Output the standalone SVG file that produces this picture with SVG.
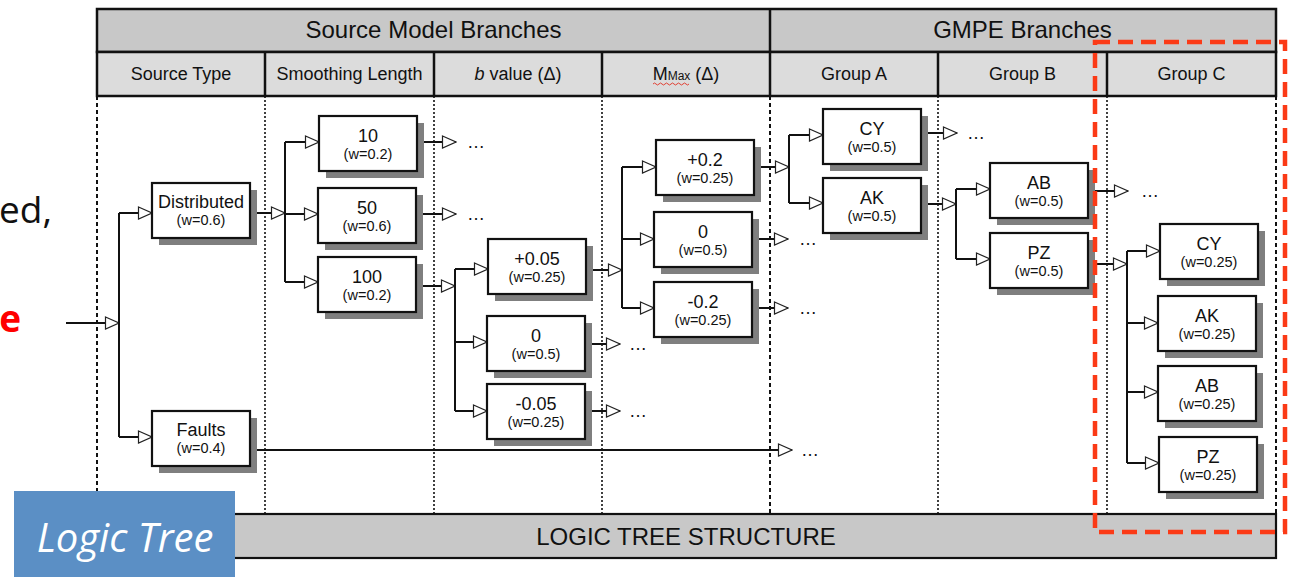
<svg xmlns="http://www.w3.org/2000/svg" width="1291" height="577" viewBox="0 0 1291 577">
  <style>
    .hdr1 { fill: #c8c8c8; stroke: #111; stroke-width: 2.5; }
    .hdr2 { fill: #dcdcdc; stroke: #111; stroke-width: 2.5; }
    .sep { stroke: #111; stroke-width: 2.5; }
    .t1 { font-family: "Liberation Sans", Arial, sans-serif; font-size: 24px; fill: #111; text-anchor: middle; }
    .t2 { font-family: "Liberation Sans", Arial, sans-serif; font-size: 18px; fill: #111; text-anchor: middle; }
    .col { stroke: #111; stroke-width: 1.6; stroke-dasharray: 2 2; fill: none; }
    .colb { stroke: #111; stroke-width: 2; stroke-dasharray: 4 3; fill: none; }
    .shadow { fill: #7f7f7f; }
    .box { fill: #fff; stroke: #111; stroke-width: 2.2; }
    .val { font-family: "Liberation Sans", Arial, sans-serif; font-size: 18px; fill: #111; text-anchor: middle; }
    .wt { font-family: "Liberation Sans", Arial, sans-serif; font-size: 14.5px; fill: #111; text-anchor: middle; }
    .ln { stroke: #111; stroke-width: 2; fill: none; }
    .arr { stroke: #111; stroke-width: 2; fill: none; marker-end: url(#head); }
    .dots { font-family: "Liberation Sans", Arial, sans-serif; font-size: 18px; fill: #111; letter-spacing: 1px; }
  </style>
  <defs>
    <marker id="head" markerUnits="userSpaceOnUse" markerWidth="16" markerHeight="14" viewBox="0 0 16 14" refX="15" refY="7" orient="auto">
      <path d="M1.5 1 L15 7 L1.5 13 Z" fill="#fff" stroke="#222" stroke-width="1.2"/>
    </marker>
  </defs>

  <rect width="1291" height="577" fill="#fff"/>

  <!-- table header -->
  <g id="header">
    <rect class="hdr1" x="97" y="9" width="1179" height="43"/>
    <rect class="hdr2" x="97" y="52" width="1179" height="44"/>
    <line class="sep" x1="770" y1="9" x2="770" y2="96"/>
    <line class="sep" x1="265" y1="52" x2="265" y2="96"/>
    <line class="sep" x1="434" y1="52" x2="434" y2="96"/>
    <line class="sep" x1="602" y1="52" x2="602" y2="96"/>
    <line class="sep" x1="938" y1="52" x2="938" y2="96"/>
    <line class="sep" x1="1107" y1="52" x2="1107" y2="96"/>
    <text class="t1" x="433.5" y="38">Source Model Branches</text>
    <text class="t1" x="1022.5" y="38">GMPE Branches</text>
    <text class="t2" x="181" y="80">Source Type</text>
    <text class="t2" x="349.5" y="80">Smoothing Length</text>
    <text class="t2" x="518" y="80"><tspan font-style="italic">b</tspan> value (Δ)</text>
    <text class="t2" x="686" y="80">M<tspan font-size="12px">Max</tspan> (Δ)</text>
    <path d="M653 84 q1.5 -2 3 0 t3 0 t3 0 t3 0 t3 0 t3 0 t3 0 t3 0 t3 0 t3 0 t3 0 t3 0" fill="none" stroke="#e03020" stroke-width="0.9"/>
    <text class="t2" x="854" y="80">Group A</text>
    <text class="t2" x="1022.5" y="80">Group B</text>
    <text class="t2" x="1191.5" y="80">Group C</text>
  </g>

  <!-- column guides -->
  <g id="columns">
    <line class="colb" x1="97" y1="96" x2="97" y2="514"/>
    <line class="col" x1="265" y1="96" x2="265" y2="514"/>
    <line class="col" x1="434" y1="96" x2="434" y2="514"/>
    <line class="col" x1="602" y1="96" x2="602" y2="514"/>
    <line class="colb" x1="770" y1="96" x2="770" y2="514"/>
    <line class="col" x1="938" y1="96" x2="938" y2="514"/>
    <line class="col" x1="1107" y1="96" x2="1107" y2="514"/>
    <line class="colb" x1="1276" y1="96" x2="1276" y2="514"/>
  </g>

  <!-- footer bar -->
  <g id="footer">
    <rect x="97" y="514" width="1179" height="44" fill="#c8c8c8" stroke="#111" stroke-width="2.2"/>
    <text class="t1" x="686" y="545" font-size="23px">LOGIC TREE STRUCTURE</text>
  </g>

  <!-- connectors -->
  <g id="connectors">
    <path class="arr" d="M66 323 H119"/>
    <path class="ln" d="M119 213 V437"/>
    <path class="arr" d="M119 213 H152"/>
    <path class="arr" d="M119 437 H152"/>

    <path class="arr" d="M249 213 H285"/>
    <path class="ln" d="M285 142 V282"/>
    <path class="arr" d="M285 142 H319"/>
    <path class="arr" d="M285 214 H318"/>
    <path class="arr" d="M285 282 H318"/>
    <path class="arr" d="M249 450 H792"/>

    <path class="arr" d="M417 142 H456"/>
    <path class="arr" d="M416 214 H456"/>
    <path class="arr" d="M416 286 H455"/>
    <path class="ln" d="M455 269 V411"/>
    <path class="arr" d="M455 269 H488"/>
    <path class="arr" d="M455 342 H487"/>
    <path class="arr" d="M455 411 H487"/>

    <path class="arr" d="M587 270 H622"/>
    <path class="arr" d="M585 344 H620"/>
    <path class="arr" d="M585 411 H620"/>
    <path class="ln" d="M622 167 V308"/>
    <path class="arr" d="M622 167 H656"/>
    <path class="arr" d="M622 239 H654"/>
    <path class="arr" d="M622 308 H654"/>

    <path class="arr" d="M754 167 H789"/>
    <path class="arr" d="M752 239 H788"/>
    <path class="arr" d="M752 308 H788"/>
    <path class="ln" d="M789 135 V203"/>
    <path class="arr" d="M789 135 H823"/>
    <path class="arr" d="M789 203 H823"/>

    <path class="arr" d="M921 133 H957"/>
    <path class="arr" d="M921 204 H956"/>
    <path class="ln" d="M956 189 V259"/>
    <path class="arr" d="M956 189 H990"/>
    <path class="arr" d="M956 259 H990"/>

    <path class="arr" d="M1088 191 H1128"/>
    <path class="arr" d="M1088 264 H1127"/>
    <path class="ln" d="M1127 251 V463"/>
    <path class="arr" d="M1127 251 H1160"/>
    <path class="arr" d="M1127 323 H1158"/>
    <path class="arr" d="M1127 392 H1158"/>
    <path class="arr" d="M1127 463 H1159"/>

    <text class="dots" x="467" y="148">…</text>
    <text class="dots" x="467" y="220">…</text>
    <text class="dots" x="629" y="350">…</text>
    <text class="dots" x="629" y="417">…</text>
    <text class="dots" x="799" y="245">…</text>
    <text class="dots" x="799" y="314">…</text>
    <text class="dots" x="801" y="456">…</text>
    <text class="dots" x="967" y="139">…</text>
    <text class="dots" x="1141" y="197">…</text>
  </g>

  <!-- source type -->
  <g id="n-distributed">
    <rect class="shadow" x="159" y="190" width="98" height="55"/>
    <rect class="box" x="152" y="183" width="98" height="55"/>
    <text class="val" x="201" y="208">Distributed</text>
    <text class="wt" x="201" y="225">(w=0.6)</text>
  </g>
  <g id="n-faults">
    <rect class="shadow" x="159" y="418" width="98" height="55"/>
    <rect class="box" x="152" y="411" width="98" height="55"/>
    <text class="val" x="201" y="436">Faults</text>
    <text class="wt" x="201" y="453">(w=0.4)</text>
  </g>

  <!-- smoothing length -->
  <g id="n-s10">
    <rect class="shadow" x="326" y="123" width="98" height="55"/>
    <rect class="box" x="319" y="116" width="98" height="55"/>
    <text class="val" x="368" y="142">10</text>
    <text class="wt" x="368" y="159">(w=0.2)</text>
  </g>
  <g id="n-s50">
    <rect class="shadow" x="325" y="195" width="98" height="55"/>
    <rect class="box" x="318" y="188" width="98" height="55"/>
    <text class="val" x="367" y="214">50</text>
    <text class="wt" x="367" y="231">(w=0.6)</text>
  </g>
  <g id="n-s100">
    <rect class="shadow" x="325" y="264" width="98" height="55"/>
    <rect class="box" x="318" y="257" width="98" height="55"/>
    <text class="val" x="367" y="283">100</text>
    <text class="wt" x="367" y="300">(w=0.2)</text>
  </g>

  <!-- b value -->
  <g id="n-bplus">
    <rect class="shadow" x="495" y="246" width="98" height="55"/>
    <rect class="box" x="488" y="239" width="98" height="55"/>
    <text class="val" x="537" y="265">+0.05</text>
    <text class="wt" x="537" y="282">(w=0.25)</text>
  </g>
  <g id="n-bzero">
    <rect class="shadow" x="494" y="323" width="98" height="55"/>
    <rect class="box" x="487" y="316" width="98" height="55"/>
    <text class="val" x="536" y="342">0</text>
    <text class="wt" x="536" y="359">(w=0.5)</text>
  </g>
  <g id="n-bminus">
    <rect class="shadow" x="494" y="391" width="98" height="55"/>
    <rect class="box" x="487" y="384" width="98" height="55"/>
    <text class="val" x="536" y="410">-0.05</text>
    <text class="wt" x="536" y="427">(w=0.25)</text>
  </g>

  <!-- Mmax -->
  <g id="n-mplus">
    <rect class="shadow" x="663" y="147" width="98" height="55"/>
    <rect class="box" x="656" y="140" width="98" height="55"/>
    <text class="val" x="705" y="166">+0.2</text>
    <text class="wt" x="705" y="183">(w=0.25)</text>
  </g>
  <g id="n-mzero">
    <rect class="shadow" x="661" y="219" width="98" height="55"/>
    <rect class="box" x="654" y="212" width="98" height="55"/>
    <text class="val" x="703" y="238">0</text>
    <text class="wt" x="703" y="255">(w=0.5)</text>
  </g>
  <g id="n-mminus">
    <rect class="shadow" x="661" y="289" width="98" height="55"/>
    <rect class="box" x="654" y="282" width="98" height="55"/>
    <text class="val" x="703" y="308">-0.2</text>
    <text class="wt" x="703" y="325">(w=0.25)</text>
  </g>

  <!-- group A -->
  <g id="n-a-cy">
    <rect class="shadow" x="830" y="116" width="98" height="55"/>
    <rect class="box" x="823" y="109" width="98" height="55"/>
    <text class="val" x="872" y="135">CY</text>
    <text class="wt" x="872" y="152">(w=0.5)</text>
  </g>
  <g id="n-a-ak">
    <rect class="shadow" x="830" y="185" width="98" height="55"/>
    <rect class="box" x="823" y="178" width="98" height="55"/>
    <text class="val" x="872" y="204">AK</text>
    <text class="wt" x="872" y="221">(w=0.5)</text>
  </g>

  <!-- group B -->
  <g id="n-b-ab">
    <rect class="shadow" x="997" y="170" width="98" height="55"/>
    <rect class="box" x="990" y="163" width="98" height="55"/>
    <text class="val" x="1039" y="189">AB</text>
    <text class="wt" x="1039" y="206">(w=0.5)</text>
  </g>
  <g id="n-b-pz">
    <rect class="shadow" x="997" y="240" width="98" height="55"/>
    <rect class="box" x="990" y="233" width="98" height="55"/>
    <text class="val" x="1039" y="259">PZ</text>
    <text class="wt" x="1039" y="276">(w=0.5)</text>
  </g>

  <!-- group C -->
  <g id="n-c-cy">
    <rect class="shadow" x="1167" y="231" width="98" height="55"/>
    <rect class="box" x="1160" y="224" width="98" height="55"/>
    <text class="val" x="1209" y="250">CY</text>
    <text class="wt" x="1209" y="267">(w=0.25)</text>
  </g>
  <g id="n-c-ak">
    <rect class="shadow" x="1165" y="303" width="98" height="55"/>
    <rect class="box" x="1158" y="296" width="98" height="55"/>
    <text class="val" x="1207" y="322">AK</text>
    <text class="wt" x="1207" y="339">(w=0.25)</text>
  </g>
  <g id="n-c-ab">
    <rect class="shadow" x="1165" y="373" width="98" height="55"/>
    <rect class="box" x="1158" y="366" width="98" height="55"/>
    <text class="val" x="1207" y="392">AB</text>
    <text class="wt" x="1207" y="409">(w=0.25)</text>
  </g>
  <g id="n-c-pz">
    <rect class="shadow" x="1166" y="444" width="98" height="55"/>
    <rect class="box" x="1159" y="437" width="98" height="55"/>
    <text class="val" x="1208" y="463">PZ</text>
    <text class="wt" x="1208" y="480">(w=0.25)</text>
  </g>

  <!-- title tag -->
  <g id="tag">
    <rect x="14" y="491" width="221" height="86" fill="#5b8fc5"/>
    <text x="125" y="552" font-family="'Open Sans', 'Liberation Sans', sans-serif" font-style="italic" font-size="40px" fill="#fff" text-anchor="middle">Logic Tree</text>
  </g>

  <!-- highlight frame -->
  <rect x="1095" y="42" width="190" height="490" fill="none" stroke="#fb3a16" stroke-width="4.5" stroke-dasharray="15 8"/>

  <!-- clipped side texts -->
  <text x="52" y="223" font-family="'Open Sans', 'Liberation Sans', sans-serif" font-size="37px" fill="#111" text-anchor="end">ed,</text>
  <text x="21" y="332" font-family="'Open Sans', 'Liberation Sans', sans-serif" font-size="37px" font-weight="bold" fill="#ff0000" text-anchor="end">e</text>
</svg>
